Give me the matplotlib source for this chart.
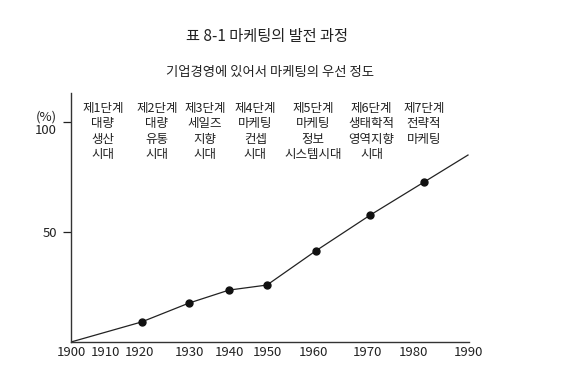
import numpy as np
import matplotlib.pyplot as plt

plt.rcParams['font.family'] = ['Noto Sans CJK KR', 'DejaVu Sans']

# Data

year_ticks = [1900, 1910, 1920, 1930, 1940, 1950, 1960, 1970, 1980, 1990]
point_years = [1920.5, 1930, 1940, 1950, 1960.5, 1970.7, 1982]
point_values = [9.1, 17.7, 23.6, 25.9, 41.4, 57.7, 72.7]
line_years = [1900] + point_years + [1990]
line_values = [0] + point_values + [85]

stages = ['제1단계\n대량\n생산\n시대',
          '제2단계\n대량\n유통\n시대',
          '제3단계\n세일즈\n지향\n시대',
          '제4단계\n마케팅\n컨셉\n시대',
          '제5단계\n마케팅\n정보\n시스템시대',
          '제6단계\n생태학적\n영역지향\n시대',
          '제7단계\n전략적\n마케팅']

# Layout: the year axis of the original is drawn unevenly
tick_pos = [0, 34, 68, 118, 158, 196, 242, 296, 342, 397]
stage_years = [1909.4, 1923.6, 1934, 1946.9, 1960, 1971, 1982]


def xpos(year):
    return np.interp(year, year_ticks, tick_pos)


fig = plt.figure(figsize=(5.74, 3.8), dpi=100)
ax = fig.add_axes([71 / 574, 38 / 380, 398 / 574, 249 / 380])

ax.plot(xpos(line_years), line_values, color='#222222', lw=0.9)
ax.plot(xpos(point_years), point_values, 'o', color='#111111', ms=5)

for yr, txt in zip(stage_years, stages):
    ax.text(xpos(yr), 109.3, txt, ha='center', va='top', fontsize=9,
            linespacing=1.26, color='#222222')

ax.set_xlim(0, 398)
ax.set_ylim(0, 113.2)
ax.spines[['top', 'right']].set_visible(False)
for s in ['left', 'bottom']:
    ax.spines[s].set_color('#333333')
    ax.spines[s].set_linewidth(1.0)

ax.set_xticks(tick_pos)
ax.set_xticklabels([str(y) for y in year_ticks], fontsize=9.5)
ax.tick_params(axis='x', length=0, pad=3, colors='#222222')
ax.set_yticks([50, 100])
ax.set_yticklabels(['50', '(%)\n100'], fontsize=9.5, linespacing=1.0)
ax.tick_params(axis='y', length=6, width=0.9, pad=4, colors='#222222')

fig.text(267 / 574, 1 - 36 / 380, '표 8-1 마케팅의 발전 과정', ha='center',
         va='center', fontsize=11, color='#222222')
fig.text(270 / 574, 1 - 72 / 380, '기업경영에 있어서 마케팅의 우선 정도', ha='center',
         va='center', fontsize=9.6, color='#222222')

fig.savefig('out.png', dpi=100)
